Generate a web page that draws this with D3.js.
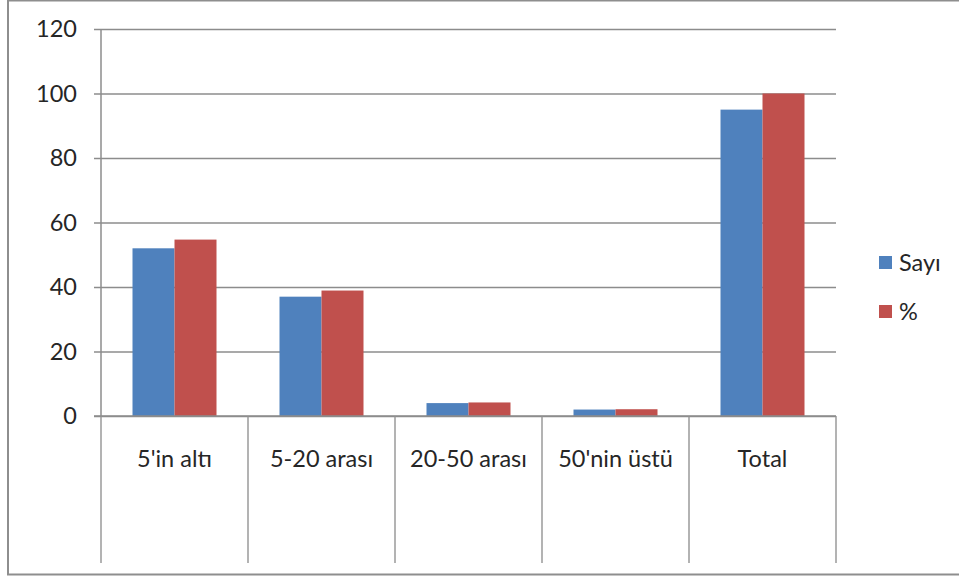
<!DOCTYPE html>
<html>
<head>
<meta charset="utf-8">
<script src="https://cdn.jsdelivr.net/npm/d3@7"></script>
<style>
  html, body { margin: 0; padding: 0; background: #ffffff; }
  svg { display: block; }
  text { font-family: Lato, "Open Sans", "Noto Sans", sans-serif; fill: #262626; }
</style>
</head>
<body>
<svg id="chart" width="959" height="577"></svg>
<script>
// Categories and series values
const categories = ["5'in altı", "5-20 arası", "20-50 arası", "50'nin üstü", "Total"];
const seriesNames = ["Sayı", "%"];
const sayiValues = [52, 37, 4, 2, 95];
const yuzdeValues = [54.7, 38.9, 4.2, 2.1, 100];
const yTicks = [0, 20, 40, 60, 80, 100, 120];
const colors = ["#4F81BD", "#C0504D"];

const rows = categories.map((c, i) => ({ cat: c, values: [sayiValues[i], yuzdeValues[i]] }));

const svg = d3.select("#chart");
const W = 959, H = 577;
const plot = { left: 101, right: 836, top: 29, bottom: 416 };
const catAreaBottom = 563;
const gridColor = "#8c8c8c";
const fontSize = 23.5;

// Outer chart frame (open on the right)
svg.append("path")
  .attr("d", `M${W + 2},0.5 H8 V574.5 H${W + 2}`)
  .attr("fill", "none")
  .attr("stroke", "#8e8e8e")
  .attr("stroke-width", 2);

const x0 = d3.scaleBand().domain(categories).range([plot.left, plot.right]).padding(0);
const barW = x0.bandwidth() / 3.5;
const x1 = d3.scaleBand().domain(d3.range(seriesNames.length))
  .range([(x0.bandwidth() - 2 * barW) / 2, (x0.bandwidth() + 2 * barW) / 2]).padding(0);
const y = d3.scaleLinear().domain([0, 120]).range([plot.bottom, plot.top]);

// Horizontal gridlines with short tick stubs on the left
const yAxis = d3.axisLeft(y)
  .tickValues(yTicks)
  .tickSize(-(plot.right - plot.left) - 7)
  .tickFormat(d3.format("d"));
const gy = svg.append("g").attr("transform", `translate(${plot.right},0)`).call(yAxis);
gy.select(".domain").remove();
gy.selectAll(".tick line").attr("stroke", gridColor).attr("stroke-width", 1.5)
  .attr("x1", -(plot.right - plot.left) - 7).attr("x2", 0);
gy.selectAll(".tick text")
  .attr("x", -(plot.right - plot.left) - 24)
  .attr("font-size", fontSize)
  .attr("fill", "#262626")
  .style("font-family", "Lato, 'Open Sans', sans-serif");

// Vertical value axis line
svg.append("line")
  .attr("x1", plot.left).attr("x2", plot.left)
  .attr("y1", plot.top).attr("y2", plot.bottom)
  .attr("stroke", gridColor).attr("stroke-width", 1.5);

// Category separators below the baseline
const sepXs = categories.map(c => x0(c)).concat([plot.right]);
svg.append("g").selectAll("line").data(sepXs).join("line")
  .attr("x1", d => d).attr("x2", d => d)
  .attr("y1", plot.bottom).attr("y2", catAreaBottom)
  .attr("stroke", "#9a9a9a").attr("stroke-width", 1.5);

// Bars
const groups = svg.append("g").selectAll("g").data(rows).join("g")
  .attr("transform", d => `translate(${x0(d.cat)},0)`);
groups.selectAll("rect").data(d => d.values.map((v, i) => ({ v, i }))).join("rect")
  .attr("x", d => x1(d.i))
  .attr("width", x1.bandwidth())
  .attr("y", d => y(d.v))
  .attr("height", d => y(0) - y(d.v))
  .attr("fill", d => colors[d.i]);

// Category axis baseline
svg.append("line")
  .attr("x1", plot.left - 7).attr("x2", plot.right)
  .attr("y1", plot.bottom).attr("y2", plot.bottom)
  .attr("stroke", gridColor).attr("stroke-width", 1.5);

// Category labels
svg.append("g").selectAll("text").data(categories).join("text")
  .attr("x", d => x0(d) + x0.bandwidth() / 2)
  .attr("y", 467)
  .attr("text-anchor", "middle")
  .attr("font-size", fontSize)
  .text(d => d);

// Legend
const legend = svg.append("g").selectAll("g").data(seriesNames).join("g")
  .attr("transform", (d, i) => `translate(879,${256 + i * 49})`);
legend.append("rect").attr("width", 13).attr("height", 13).attr("fill", (d, i) => colors[i]);
legend.append("text").attr("x", 20).attr("y", 15).attr("font-size", fontSize).text(d => d);
</script>
</body>
</html>
